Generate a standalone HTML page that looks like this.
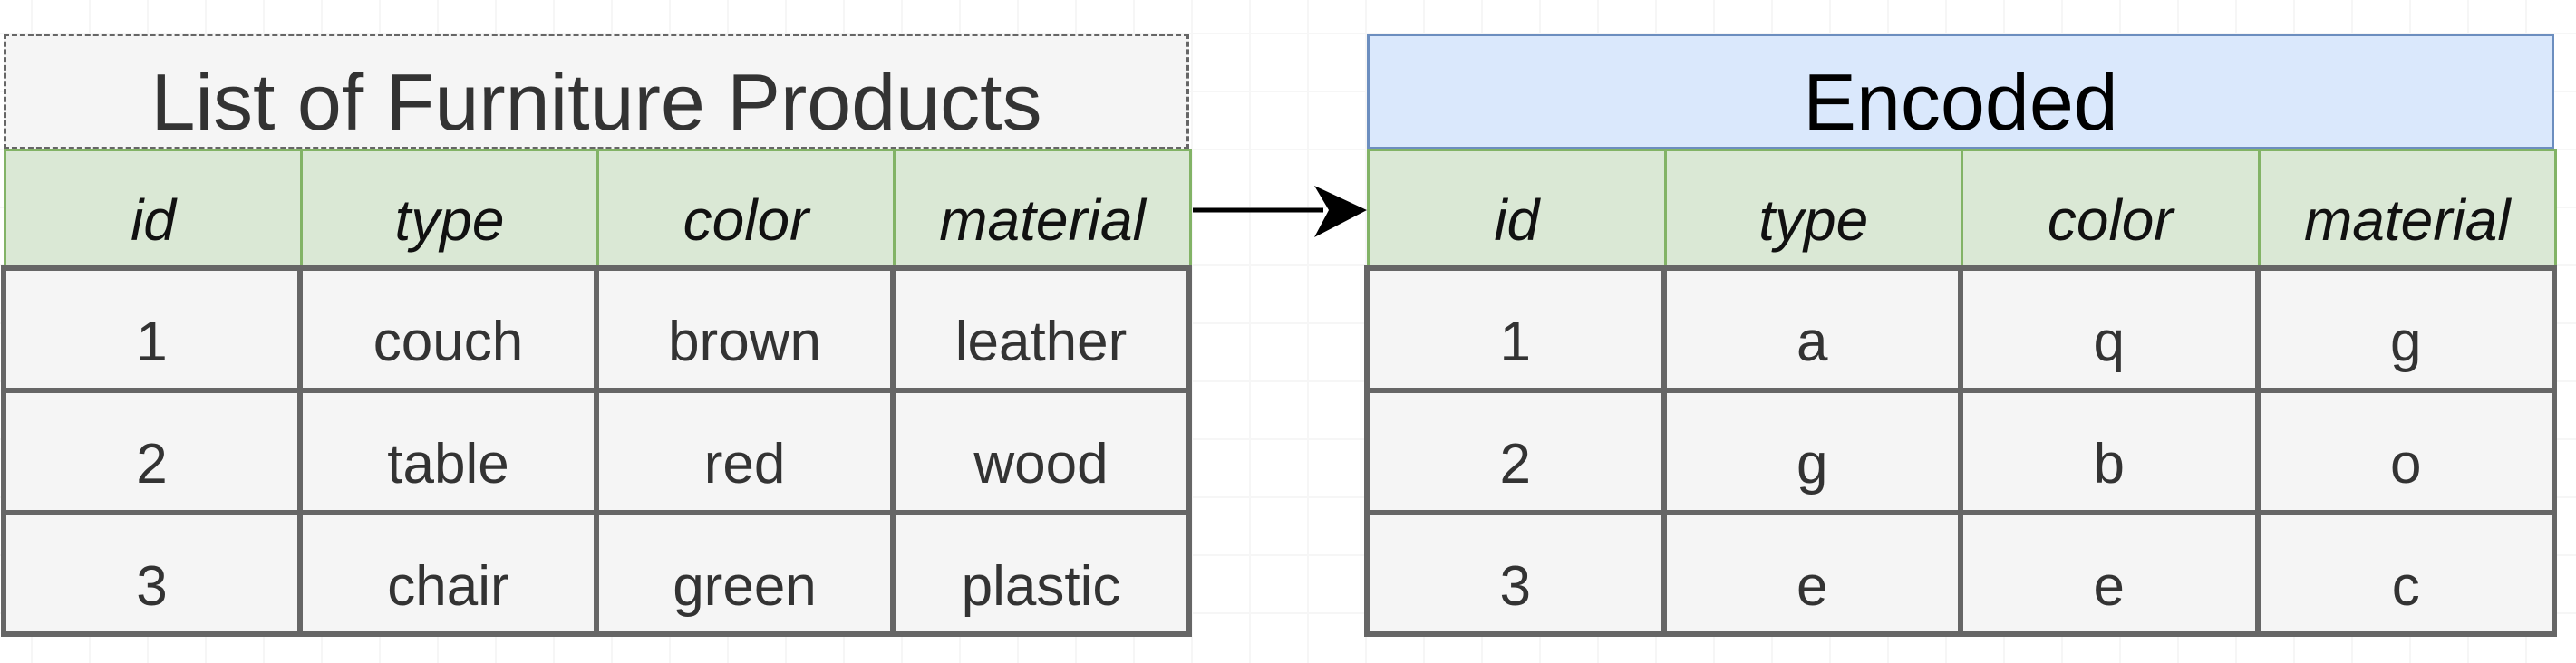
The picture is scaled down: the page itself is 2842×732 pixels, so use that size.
<!DOCTYPE html>
<html><head><meta charset="utf-8"><style>
html,body{margin:0;padding:0;}
body{width:2842px;height:732px;position:relative;overflow:hidden;background:#fff;
background-image:linear-gradient(to right,#f6f6f6 2px,transparent 2px),linear-gradient(to bottom,#f6f6f6 2px,transparent 2px);
background-size:64px 64px;background-position:34px 36px;font-family:"Liberation Sans",Arial,sans-serif;}
.box{position:absolute;box-sizing:border-box;display:flex;align-items:center;justify-content:center;}
.title{font-size:88px;color:#333;padding-top:24px;}
.hdr{background:#dae8d5;border:3px solid #82b366;font-style:italic;font-size:64px;color:#111;padding-top:26px;}
.cell{background:#f5f5f5;border:6px solid #666;font-size:62px;color:#333;padding-top:28px;}
</style></head><body>
<div id="root"></div>
<svg style="position:absolute;left:0;top:0" width="2842" height="732">
<line x1="1316" y1="232" x2="1460" y2="232" stroke="#000" stroke-width="5"/>
<polygon points="1450,205 1508,232 1450,262 1466,232" fill="#000"/>
</svg>
<script>
const headers=['id','type','color','material'];
const leftRows=[['1','couch','brown','leather'],['2','table','red','wood'],['3','chair','green','plastic']];
const rightRows=[['1','a','q','g'],['2','g','b','o'],['3','e','e','c']];
const root=document.getElementById('root');
function box(x,y,w,h,cls,txt,name){
const d=document.createElement('div');
d.className='box '+cls;
d.style.left=x+'px';d.style.top=y+'px';d.style.width=w+'px';d.style.height=h+'px';
d.textContent=txt;


root.appendChild(d);return d;}
function table(x0,x1,title,rows,tfill,tborder,tcolor,prefix){
const t=box(x0,37,x1-x0,128,'title',title,prefix+'-title');
t.style.background=tfill;t.style.border='3px '+(prefix==='left'?'dashed':'solid')+' '+tborder;t.style.color=tcolor;
const cw=(x1-x0)/4;
headers.forEach((h,i)=>box(x0+i*cw,164,cw+3,132,'hdr',h,prefix+'-header-'+h));
const ys=[296,431,566,700];
rows.forEach((r,ri)=>r.forEach((v,ci)=>box(x0+ci*cw-3,ys[ri]-3,cw+6,ys[ri+1]-ys[ri]+6,'cell',v,prefix+'-cell-'+(ri+1)+'-'+headers[ci])));
}
table(4,1312,'List of Furniture Products',leftRows,'#f5f5f5','#666','#333','left');
table(1508,2818,'Encoded',rightRows,'#dae8fc','#6c8ebf','#000','right');
</script>
</body></html>
